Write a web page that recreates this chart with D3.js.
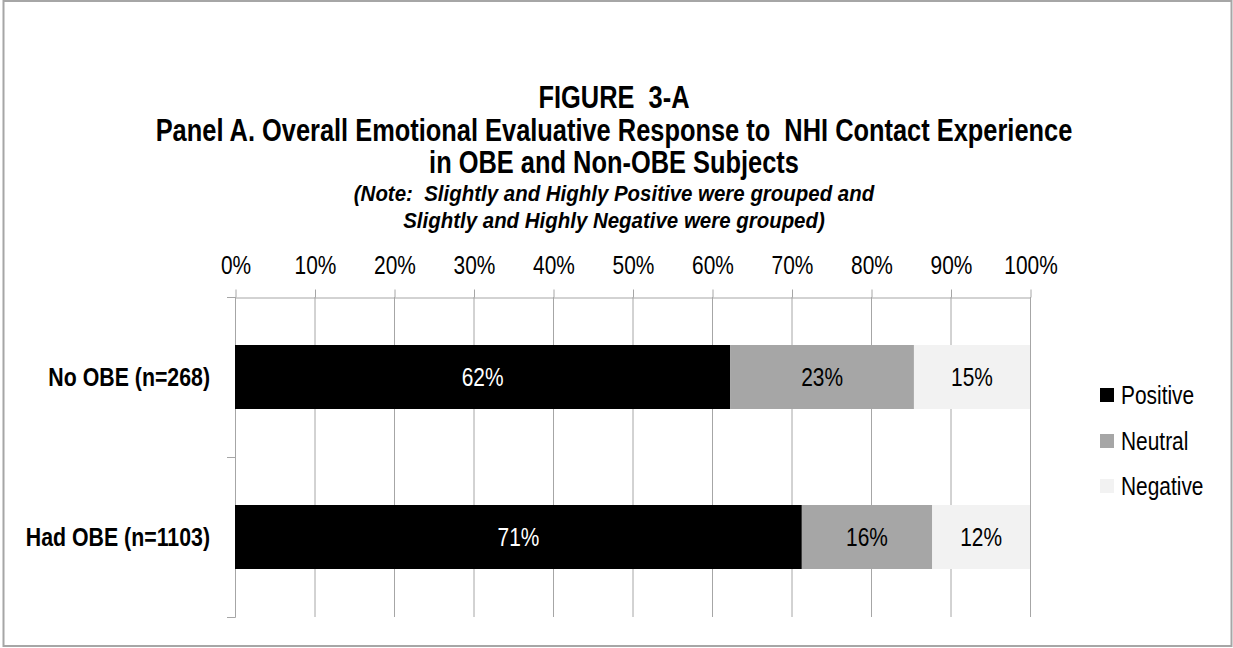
<!DOCTYPE html>
<html>
<head>
<meta charset="utf-8">
<script src="https://cdn.jsdelivr.net/npm/d3@7"></script>
<style>
  html, body { margin: 0; padding: 0; background: #fff; }
  svg { display: block; }
  text { font-family: "Liberation Sans", Arial, sans-serif; fill: #000; white-space: pre; }
</style>
</head>
<body>
<svg id="chart" width="1233" height="648"></svg>
<script>
// Groups (top to bottom) and response shares in percent
const categories = ["No OBE (n=268)", "Had OBE (n=1103)"];
const seriesNames = ["Positive", "Neutral", "Negative"];
const positive = [62.3, 71.3];
const neutral  = [23.1, 16.4];
const negative = [14.6, 12.3];
const tickValues = [0, 10, 20, 30, 40, 50, 60, 70, 80, 90, 100];
const colors = ["#000000", "#a6a6a6", "#f2f2f2"];
const labelColors = ["#ffffff", "#000000", "#000000"];

const titleLines = [
  "FIGURE  3-A",
  "Panel A. Overall Emotional Evaluative Response to  NHI Contact Experience",
  "in OBE and Non-OBE Subjects"
];
const noteLines = [
  "(Note:  Slightly and Highly Positive were grouped and",
  "Slightly and Highly Negative were grouped)"
];

// condensed look: horizontally squeeze the regular sans face
const NARROW = 0.82;

const rows = categories.map((c, i) => ({
  category: c,
  Positive: positive[i],
  Neutral: neutral[i],
  Negative: negative[i]
}));

const svg = d3.select("#chart");

// place a condensed text at (x, y)
function narrowText(parent, x, y, str, opts) {
  const sx = opts.squeeze || NARROW;
  const g = parent.append("g")
    .attr("transform", `translate(${x},${y}) scale(${sx},1)`);
  const t = g.append("text")
    .attr("x", 0).attr("y", 0).attr("dy", "0.35em")
    .attr("xml:space", "preserve")
    .attr("text-anchor", opts.anchor || "middle")
    .attr("font-size", opts.size)
    .attr("font-weight", opts.weight || "normal")
    .attr("font-style", opts.style || "normal")
    .text(str);
  if (opts.fill) t.style("fill", opts.fill);
  return t;
}

// outer frame
svg.append("rect")
  .attr("x", 3.5).attr("y", 1).attr("width", 1228).attr("height", 645)
  .attr("fill", "#fff").attr("stroke", "#a6a6a6").attr("stroke-width", 2);

// titles
const cx = 614;
const titleY = [97, 130, 162];
const titleG = svg.append("g");
titleLines.forEach((s, i) => narrowText(titleG, cx, titleY[i], s, { size: 31, weight: "bold" }));
const noteY = [193, 220];
noteLines.forEach((s, i) => narrowText(titleG, cx, noteY[i], s,
  { size: 22, weight: "bold", style: "italic", squeeze: 0.93 }));

// scales
const x = d3.scaleLinear().domain([0, 100]).range([235, 1030]);
const y = d3.scaleBand().domain(categories).range([297, 617])
  .paddingInner(0.6).paddingOuter(0.3);

const stacked = d3.stack().keys(seriesNames)(rows);

// vertical gridlines
const gridColor = "#a6a6a6";
svg.append("g").selectAll("line").data(tickValues).join("line")
  .attr("x1", d => x(d) + 0.5).attr("x2", d => x(d) + 0.5)
  .attr("y1", 297).attr("y2", 617)
  .attr("stroke", gridColor).attr("stroke-width", 1);

// top percentage axis
const xAxis = svg.append("g")
  .attr("transform", "translate(0.5,297.5)")
  .call(d3.axisTop(x).tickValues(tickValues).tickSize(8).tickSizeOuter(0)
    .tickFormat(d => d + "%"));
xAxis.select(".domain").attr("stroke", gridColor);
xAxis.selectAll(".tick line").attr("stroke", gridColor);
xAxis.selectAll(".tick text")
  .attr("font-size", 25.5)
  .attr("font-family", null)
  .attr("fill", "#000")
  .attr("y", -32)
  .attr("dy", "0.35em")
  .attr("transform", `scale(${NARROW},1)`);

// category axis on the left, with ticks at group boundaries
const gap = (y.step() - y.bandwidth()) / 2;
const boundaries = [y.range()[0]].concat(categories.map(c => y(c) + y.bandwidth() + gap));
const leftAxis = svg.append("g");
leftAxis.append("line")
  .attr("x1", 235.5).attr("x2", 235.5).attr("y1", 297).attr("y2", 617.5)
  .attr("stroke", gridColor);
leftAxis.selectAll("line.btick").data(boundaries).join("line")
  .attr("class", "btick")
  .attr("x1", 227).attr("x2", 235.5)
  .attr("y1", d => Math.round(d) + 0.5).attr("y2", d => Math.round(d) + 0.5)
  .attr("stroke", gridColor);
categories.forEach(c => narrowText(leftAxis, 210, y(c) + y.bandwidth() / 2, c,
  { size: 26, weight: "bold", anchor: "end" }));

// bars
const layers = svg.append("g").selectAll("g").data(stacked).join("g")
  .attr("fill", (d, i) => colors[i]);
layers.selectAll("rect").data(d => d).join("rect")
  .attr("x", s => x(s[0]))
  .attr("width", s => x(s[1]) - x(s[0]))
  .attr("y", s => y(s.data.category))
  .attr("height", y.bandwidth());

// value labels
const fmt = v => Math.round(v) + "%";
const labelG = svg.append("g");
stacked.forEach((layer, i) => {
  layer.forEach(s => {
    narrowText(labelG, (x(s[0]) + x(s[1])) / 2, y(s.data.category) + y.bandwidth() / 2,
      fmt(s[1] - s[0]), { size: 25.5, fill: labelColors[i] });
  });
});

// legend
const legendY = [395, 441, 486];
const legendG = svg.append("g");
seriesNames.forEach((name, i) => {
  legendG.append("rect")
    .attr("x", 1100).attr("y", legendY[i] - 7).attr("width", 14).attr("height", 14)
    .attr("fill", colors[i]);
  narrowText(legendG, 1121, legendY[i], name, { size: 25.5, anchor: "start" });
});
</script>
</body>
</html>
